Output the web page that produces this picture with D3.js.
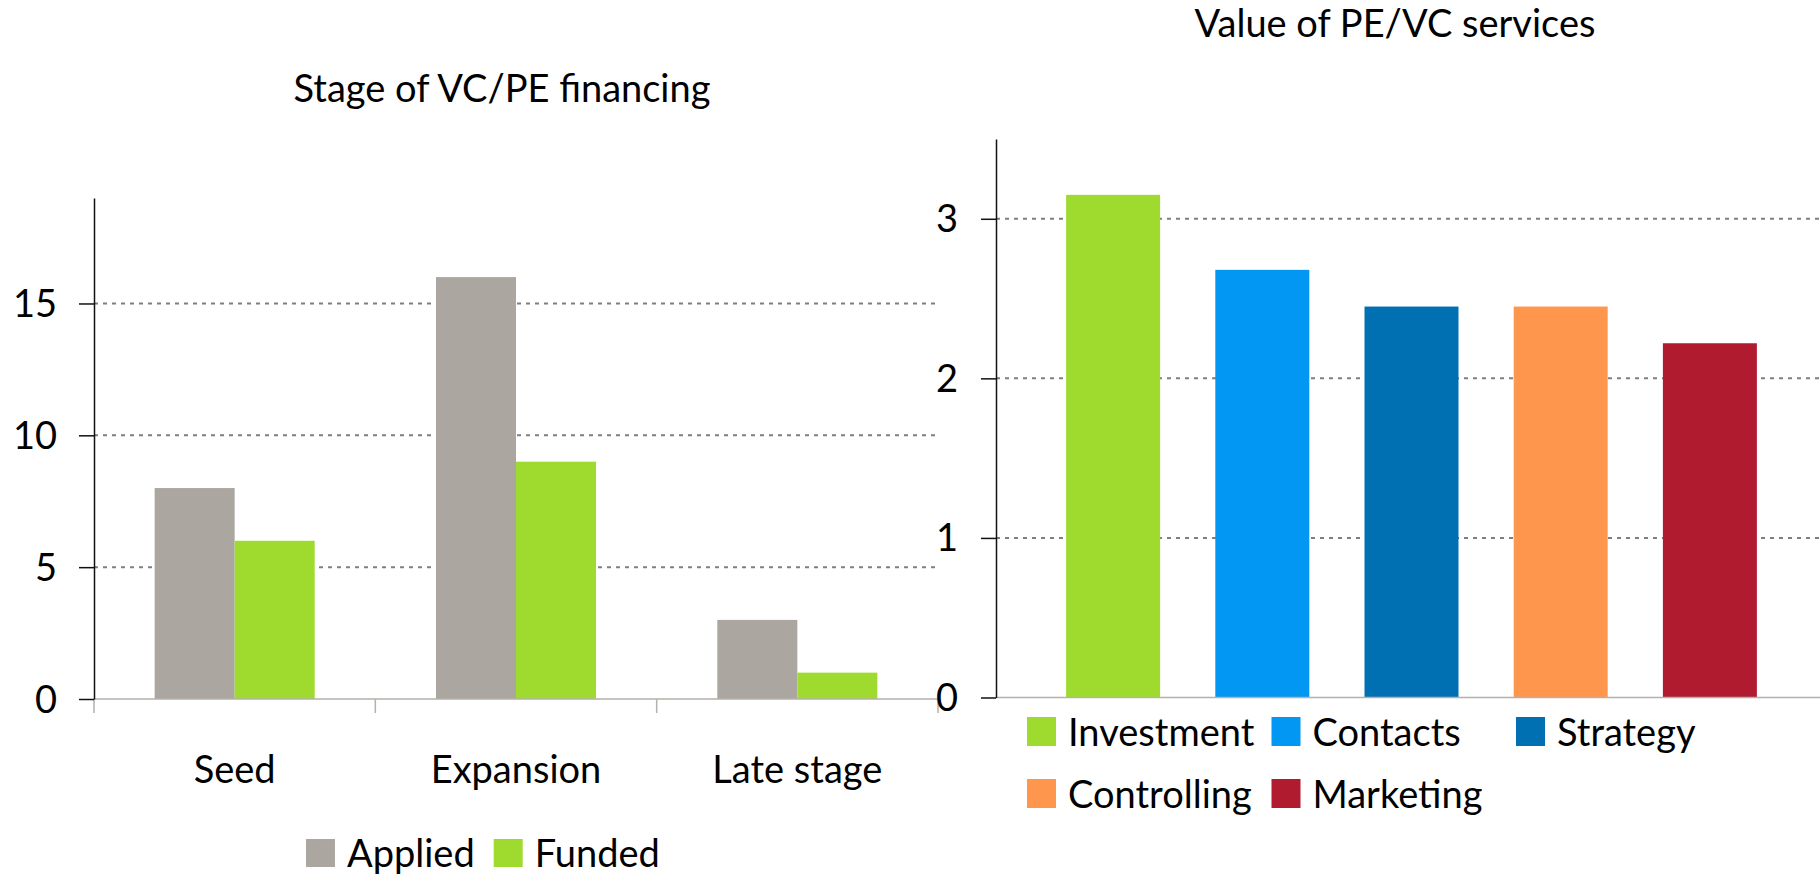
<!DOCTYPE html>
<html>
<head>
<meta charset="utf-8">
<script src="https://cdn.jsdelivr.net/npm/d3@7"></script>
<style>
  html, body { margin: 0; padding: 0; background: #fff; }
  svg { display: block; }
  text { font-family: Lato, "Open Sans", sans-serif; fill: #000; }
</style>
</head>
<body>
<script>
// left chart: stage of financing
const stages = ['Seed', 'Expansion', 'Late stage'];
const seriesNames = ['Applied', 'Funded'];
const applied = [8, 16, 3];
const funded = [6, 9, 1];
const stageTicks = [0, 5, 10, 15];

// right chart: value of services
const services = ['Investment', 'Contacts', 'Strategy', 'Controlling', 'Marketing'];
const serviceValues = [3.15, 2.68, 2.45, 2.45, 2.22];
const serviceTicks = [0, 1, 2, 3];

const seriesColors = ['#aba7a0', '#9edb2e'];
const serviceColors = ['#9edb2e', '#0197f3', '#0070b3', '#fe964d', '#b11b30'];

const W = 1820, H = 877;
const labelSize = 38, titleSize = 38;

const svg = d3.select('body').append('svg')
  .attr('width', W)
  .attr('height', H);

function dotted(g) {
  g.attr('stroke', '#7f7f7f')
    .attr('stroke-width', 2)
    .attr('stroke-dasharray', '4,5');
}

// ---------- left chart ----------
{
  const left = 94, right = 938, top = 198, bottom = 699;
  const y = d3.scaleLinear([0, 19], [bottom, top]);
  const x0 = d3.scaleBand(stages, [left, right]);
  const x1 = d3.scaleBand(seriesNames, [0, x0.bandwidth()]).paddingOuter(0.758);

  svg.append('text')
    .attr('x', 502)
    .attr('y', 102)
    .attr('text-anchor', 'middle')
    .attr('font-size', titleSize)
    .text('Stage of VC/PE financing');

  // grid
  svg.append('g').selectAll('line')
    .data(stageTicks.filter(d => d > 0))
    .join('line')
    .attr('x1', left).attr('x2', right)
    .attr('y1', d => y(d)).attr('y2', d => y(d))
    .call(dotted);

  // bars
  const data = stages.map((s, i) => ({ stage: s, values: [applied[i], funded[i]] }));
  svg.append('g').selectAll('g')
    .data(data)
    .join('g')
    .attr('transform', d => `translate(${x0(d.stage)},0)`)
    .selectAll('rect')
    .data(d => d.values.map((v, j) => ({ key: seriesNames[j], v, j })))
    .join('rect')
    .attr('x', d => x1(d.key))
    .attr('width', x1.bandwidth())
    .attr('y', d => y(d.v))
    .attr('height', d => y(0) - y(d.v))
    .attr('fill', d => seriesColors[d.j]);

  // x axis: gray baseline with ticks at band edges
  const xa = svg.append('g');
  xa.append('line')
    .attr('x1', left).attr('x2', right)
    .attr('y1', y(0)).attr('y2', y(0))
    .attr('stroke', '#b5b1ab').attr('stroke-width', 1.5);
  xa.selectAll('line.edge')
    .data(stages.map(s => x0(s)).concat([right]))
    .join('line')
    .attr('class', 'edge')
    .attr('x1', d => d).attr('x2', d => d)
    .attr('y1', y(0)).attr('y2', y(0) + 14)
    .attr('stroke', '#b5b1ab').attr('stroke-width', 1.5);
  xa.selectAll('text')
    .data(stages)
    .join('text')
    .attr('x', d => x0(d) + x0.bandwidth() / 2)
    .attr('y', 783)
    .attr('text-anchor', 'middle')
    .attr('font-size', labelSize)
    .text(d => d);

  // y axis
  const ya = svg.append('g')
    .attr('transform', `translate(${left},0)`)
    .call(d3.axisLeft(y).tickValues(stageTicks).tickFormat(d3.format('d'))
      .tickSize(15).tickSizeOuter(0).tickPadding(22));
  ya.select('.domain').attr('stroke', '#111').attr('stroke-width', 1.5);
  ya.selectAll('.tick line').attr('stroke', '#111').attr('stroke-width', 1.5);
  ya.selectAll('.tick text')
    .attr('font-size', labelSize)
    .attr('font-family', 'Lato, sans-serif')
    .attr('fill', '#000')
    .attr('dy', null)
    .attr('y', 13);

  // legend
  let lx = 306;
  const ly = 867;
  seriesNames.forEach((name, i) => {
    svg.append('rect')
      .attr('x', lx).attr('y', ly - 28)
      .attr('width', 29).attr('height', 28)
      .attr('fill', seriesColors[i]);
    const t = svg.append('text')
      .attr('x', lx + 41).attr('y', ly)
      .attr('font-size', labelSize)
      .text(name);
    lx += 41 + t.node().getComputedTextLength() + 19;
  });
}

// ---------- right chart ----------
{
  const left = 996, right = 1820, top = 139, bottom = 697.5;
  const y = d3.scaleLinear([0, 3.5], [bottom, top]);
  const x = d3.scaleBand(services, [left, 1827]).paddingInner(0.37).paddingOuter(0.47);

  svg.append('text')
    .attr('x', 1395)
    .attr('y', 37)
    .attr('text-anchor', 'middle')
    .attr('font-size', titleSize)
    .text('Value of PE/VC services');

  svg.append('g').selectAll('line')
    .data(serviceTicks.filter(d => d > 0))
    .join('line')
    .attr('x1', left).attr('x2', right)
    .attr('y1', d => y(d)).attr('y2', d => y(d))
    .call(dotted);

  svg.append('g').selectAll('rect')
    .data(services)
    .join('rect')
    .attr('x', d => x(d))
    .attr('width', x.bandwidth())
    .attr('y', (d, i) => y(serviceValues[i]))
    .attr('height', (d, i) => y(0) - y(serviceValues[i]))
    .attr('fill', (d, i) => serviceColors[i]);

  svg.append('line')
    .attr('x1', left).attr('x2', right)
    .attr('y1', y(0)).attr('y2', y(0))
    .attr('stroke', '#b5b1ab').attr('stroke-width', 1.5);

  const ya = svg.append('g')
    .attr('transform', `translate(${left},0)`)
    .call(d3.axisLeft(y).tickValues(serviceTicks).tickFormat(d3.format('d'))
      .tickSize(15).tickSizeOuter(0).tickPadding(23));
  ya.select('.domain').attr('stroke', '#111').attr('stroke-width', 1.5);
  ya.selectAll('.tick line').attr('stroke', '#111').attr('stroke-width', 1.5);
  ya.selectAll('.tick text')
    .attr('font-size', labelSize)
    .attr('font-family', 'Lato, sans-serif')
    .attr('fill', '#000')
    .attr('dy', null)
    .attr('y', 13);

  // legend, 3 columns
  services.forEach((name, i) => {
    const cx = 1027 + (i % 3) * 244.5;
    const cy = 746 + Math.floor(i / 3) * 62;
    svg.append('rect')
      .attr('x', cx).attr('y', cy - 29)
      .attr('width', 29).attr('height', 29)
      .attr('fill', serviceColors[i]);
    svg.append('text')
      .attr('x', cx + 41).attr('y', cy)
      .attr('font-size', labelSize)
      .text(name);
  });
}
</script>
</body>
</html>
